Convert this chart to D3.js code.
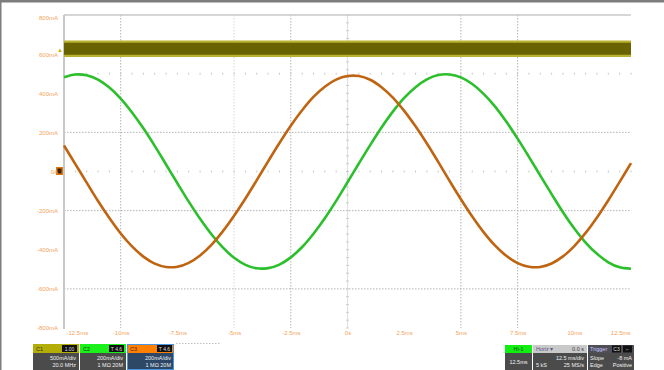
<!DOCTYPE html>
<html><head><meta charset="utf-8">
<script src="https://cdn.jsdelivr.net/npm/d3@7"></script>
<style>
html,body{margin:0;padding:0;background:#fff;overflow:hidden;}
svg{display:block;font-family:"Liberation Sans",Arial,sans-serif;}
</style></head><body>
<svg id="c" width="664" height="370"></svg>
<script>
// ---- data ----
const timeMs = [-12.5,-12,-11.5,-11,-10.5,-10,-9.5,-9,-8.5,-8,-7.5,-7,-6.5,-6,-5.5,-5,-4.5,-4,-3.5,-3,-2.5,-2,-1.5,-1,-0.5,0,
  0.5,1,1.5,2,2.5,3,3.5,4,4.5,5,5.5,6,6.5,7,7.5,8,8.5,9,9.5,10,10.5,11,11.5,12,12.5];
const ch3Orange = [133,38,-57,-151,-238,-317,-383,-435,-471,-488,-487,-467,-429,-375,-306,-226,-138,-44,52,146,234,313,381,433,470,488,
  488,469,431,378,310,231,143,49,-48,-142,-230,-310,-378,-431,-468,-487,-488,-470,-434,-381,-314,-235,-147,-53,43];
const ch2Green = [482,496,492,470,429,373,302,221,131,36,-60,-154,-242,-321,-388,-441,-477,-495,-494,-476,-439,-386,-318,-239,-150,-55,
  41,135,225,306,376,431,471,493,496,481,447,397,333,255,168,75,-21,-116,-208,-291,-363,-421,-464,-490,-497];
const ch1Time = [-12.5,-10,-7.5,-5,-2.5,0,2.5,5,7.5,10,12.5];
const ch1Yellow = [628,628,628,628,628,628,628,628,628,628,628];
const yTicks = [800,600,400,200,0,-200,-400,-600,-800];
const yTickLabels = ["800mA","600mA","400mA","200mA","0A","-200mA","-400mA","-600mA","-800mA"];
const xTicks = [-12.5,-10,-7.5,-5,-2.5,0,2.5,5,7.5,10,12.5];
const xTickLabels = ["-12.5ms","-10ms","-7.5ms","-5ms","-2.5ms","0s","2.5ms","5ms","7.5ms","10ms","12.5ms"];
const gridX = [-10,-5,-2.5,5,7.5];
const gridY = [200,-200,-600];

// ---- scales ----
const svg = d3.select("#c");
const x = d3.scaleLinear().domain([-12.5,12.5]).range([64,631]);
const y = d3.scaleLinear().domain([-800,800]).range([328,15]);

// outer frame
svg.append("rect").attr("x",0).attr("y",0).attr("width",664).attr("height",2.5).attr("fill","#7d7d7d");
svg.append("rect").attr("x",0).attr("y",0).attr("width",1.5).attr("height",370).attr("fill","#7d7d7d");

// grid
const g = svg.append("g");
g.selectAll(".gx").data(gridX).enter().append("line")
  .attr("x1",d=>x(d)).attr("x2",d=>x(d)).attr("y1",15).attr("y2",328)
  .attr("stroke",d=>d===-5?"#d8d8d8":"#b4b4b4").attr("stroke-width",1).attr("stroke-dasharray","1.5,1.5");
g.selectAll(".gy").data(gridY).enter().append("line")
  .attr("x1",64).attr("x2",631).attr("y1",d=>y(d)).attr("y2",d=>y(d))
  .attr("stroke","#b4b4b4").attr("stroke-width",1).attr("stroke-dasharray","1.5,1.5");
// centre vertical
g.append("line").attr("x1",x(0)).attr("x2",x(0)).attr("y1",15).attr("y2",328).attr("stroke","#e2e2e2").attr("stroke-width",1.2);
const minorY = d3.range(-800,801,40);
g.selectAll(".mt").data(minorY).enter().append("line")
  .attr("x1",x(0)-1.5).attr("x2",x(0)+1.5).attr("y1",d=>y(d)).attr("y2",d=>y(d))
  .attr("stroke","#c4c4c4").attr("stroke-width",0.8);
// zero row and upper dot row
const minorX = d3.range(-12.5,12.51,0.5);
[0,500].forEach(v=>{
  g.selectAll(null).data(minorX).enter().append("rect")
    .attr("x",d=>x(d)-0.5).attr("y",y(v)-1).attr("width",1).attr("height",2)
    .attr("fill","#c8c8c8");
});
// frame lines
svg.append("line").attr("x1",64).attr("x2",631).attr("y1",15).attr("y2",15).attr("stroke","#c8c8c8").attr("stroke-width",1.5);
svg.append("line").attr("x1",64).attr("x2",64).attr("y1",15).attr("y2",329).attr("stroke","#c8c8c8").attr("stroke-width",2);

// ---- traces ----
const line = d3.line().x(d=>x(d[0])).y(d=>y(d[1])).curve(d3.curveCatmullRom);
const yel = ch1Time.map((t,i)=>[t,ch1Yellow[i]]);
svg.append("path").attr("d",d3.line().x(d=>x(d[0])).y(d=>y(d[1]))(yel)).attr("fill","none")
  .attr("stroke","#b9b230").attr("stroke-width",16.5);
svg.append("path").attr("d",d3.line().x(d=>x(d[0])).y(d=>y(d[1]))(yel)).attr("fill","none")
  .attr("stroke","#686200").attr("stroke-width",12);

const orangeData = timeMs.map((t,i)=>[t,ch3Orange[i]]);
const greenData = timeMs.map((t,i)=>[t,ch2Green[i]]);
svg.append("path").attr("d",line(greenData)).attr("fill","none").attr("stroke","#2bbf2b").attr("stroke-width",2.6);
svg.append("path").attr("d",line(orangeData)).attr("fill","none").attr("stroke","#bf6410").attr("stroke-width",2.6);

// markers
svg.append("rect").attr("x",56).attr("y",y(0)-4.5).attr("width",7).attr("height",8).attr("fill","#e07a10");
svg.append("rect").attr("x",57.5).attr("y",y(0)-3).attr("width",4).attr("height",5).attr("fill","#3a2200");
svg.append("text").attr("x",57).attr("y",y(600)-2).attr("font-size",6).attr("fill","#c8b400").text("▲");

// ---- axes ----
const yAxis = d3.axisLeft(y).tickValues(yTicks).tickFormat((d,i)=>yTickLabels[i]).tickSize(0).tickPadding(3);
const ya = svg.append("g").attr("transform","translate(61,0)").call(yAxis);
ya.select(".domain").remove();
ya.selectAll("text").attr("font-size",6).attr("fill","#f5a35a").attr("font-family","Liberation Sans, Arial")
  .attr("dy",(d)=>d===800?"0.75em":"0.32em");

const xAxis = d3.axisBottom(x).tickValues(xTicks).tickFormat((d,i)=>xTickLabels[i]).tickSize(0).tickPadding(2);
const xa = svg.append("g").attr("transform","translate(0,329)").call(xAxis);
xa.select(".domain").remove();
xa.selectAll("text").attr("font-size",6).attr("fill","#f5a35a").attr("font-family","Liberation Sans, Arial")
  .attr("text-anchor",(d)=>d===-12.5?"start":(d===12.5?"end":"middle"))
  .attr("dx",(d)=>d===-12.5?"2":(d===12.5?"-1":"0"));

// ---- badges ----
function badge(x0,w,headCol,headTxt,headTxtCol,boxTxt,lines,bodyCol,border){
  const b = svg.append("g");
  b.append("rect").attr("x",x0).attr("y",344).attr("width",w).attr("height",9).attr("fill",headCol);
  b.append("rect").attr("x",x0).attr("y",353).attr("width",w).attr("height",17).attr("fill",bodyCol);
  if(border) b.append("rect").attr("x",x0+0.5).attr("y",344.5).attr("width",w-1).attr("height",25).attr("fill","none").attr("stroke",border).attr("stroke-width",1);
  b.append("text").attr("x",x0+3).attr("y",351).attr("font-size",5.5).attr("fill",headTxtCol).text(headTxt);
  if(boxTxt){
    b.append("rect").attr("x",x0+w-17).attr("y",345).attr("width",15).attr("height",7).attr("fill","#111");
    b.append("text").attr("x",x0+w-9.5).attr("y",350.8).attr("font-size",5).attr("fill","#ddd").attr("text-anchor","middle").text(boxTxt);
  }
  lines.forEach((l,i)=>{
    b.append("text").attr("x",x0+w-3).attr("y",360+i*7).attr("font-size",5.5).attr("fill","#f0f0f0").attr("text-anchor","end").text(l);
  });
}
badge(33,46,"#b3ad08","C1","#3a3600","1.00",["500mA/div","20.0 MHz"],"#4b4b4b");
badge(80,46,"#1cf01c","C2","#114411","T 4.6",["200mA/div","1 MΩ 20M"],"#4b4b4b");
badge(127,47,"#ff8000","C3","#4a2000","T 4.6",["200mA/div","1 MΩ 20M"],"#2c4866","#4a94e0");
svg.append("line").attr("x1",176).attr("x2",221).attr("y1",343.5).attr("y2",343.5).attr("stroke","#c0c0c0").attr("stroke-dasharray","1.5,1.5");

// right badges
const rb = svg.append("g");
rb.append("rect").attr("x",505).attr("y",345).attr("width",27).attr("height",8).attr("fill","#11ee11");
rb.append("text").attr("x",518.5).attr("y",351).attr("font-size",5.5).attr("text-anchor","middle").attr("fill","#114411").text("Hi-1");
rb.append("rect").attr("x",505).attr("y",353).attr("width",27).attr("height",17).attr("fill","#4b4b4b");
rb.append("text").attr("x",518.5).attr("y",364).attr("font-size",5.5).attr("text-anchor","middle").attr("fill","#f0f0f0").text("12.5ms");

rb.append("rect").attr("x",533).attr("y",345).attr("width",54).attr("height",8).attr("fill","#c9c9c9");
rb.append("text").attr("x",536).attr("y",351).attr("font-size",5.5).attr("fill","#5a5a8a").text("Horiz ▾");
rb.append("text").attr("x",584).attr("y",351).attr("font-size",5.5).attr("fill","#444").attr("text-anchor","end").text("0.0 s");
rb.append("rect").attr("x",533).attr("y",353).attr("width",54).attr("height",17).attr("fill","#4b4b4b");
rb.append("text").attr("x",584).attr("y",360).attr("font-size",5.5).attr("fill","#f0f0f0").attr("text-anchor","end").text("12.5 ms/div");
rb.append("text").attr("x",536).attr("y",367).attr("font-size",5.5).attr("fill","#f0f0f0").text("5 kS");
rb.append("text").attr("x",584).attr("y",367).attr("font-size",5.5).attr("fill","#f0f0f0").attr("text-anchor","end").text("25 MS/s");

rb.append("rect").attr("x",588).attr("y",345).attr("width",46).attr("height",8).attr("fill","#4f4f57");
rb.append("text").attr("x",590).attr("y",351).attr("font-size",5.5).attr("fill","#c8c8ff").text("Trigger");
rb.append("rect").attr("x",612).attr("y",345.5).attr("width",9).attr("height",7).attr("fill","#111");
rb.append("text").attr("x",616.5).attr("y",351).attr("font-size",5).attr("fill","#ddd").attr("text-anchor","middle").text("C3");
rb.append("rect").attr("x",623).attr("y",345.5).attr("width",9).attr("height",7).attr("fill","#111");
rb.append("text").attr("x",627.5).attr("y",351).attr("font-size",5).attr("fill","#ddd").attr("text-anchor","middle").text("⌐");
rb.append("rect").attr("x",588).attr("y",353).attr("width",46).attr("height",17).attr("fill","#4b4b4b");
rb.append("text").attr("x",590).attr("y",360).attr("font-size",5.5).attr("fill","#f0f0f0").text("Slope");
rb.append("text").attr("x",632).attr("y",360).attr("font-size",5.5).attr("fill","#f0f0f0").attr("text-anchor","end").text("-8 mA");
rb.append("text").attr("x",590).attr("y",367).attr("font-size",5.5).attr("fill","#f0f0f0").text("Edge");
rb.append("text").attr("x",632).attr("y",367).attr("font-size",5.5).attr("fill","#f0f0f0").attr("text-anchor","end").text("Positive");
</script>
</body></html>
